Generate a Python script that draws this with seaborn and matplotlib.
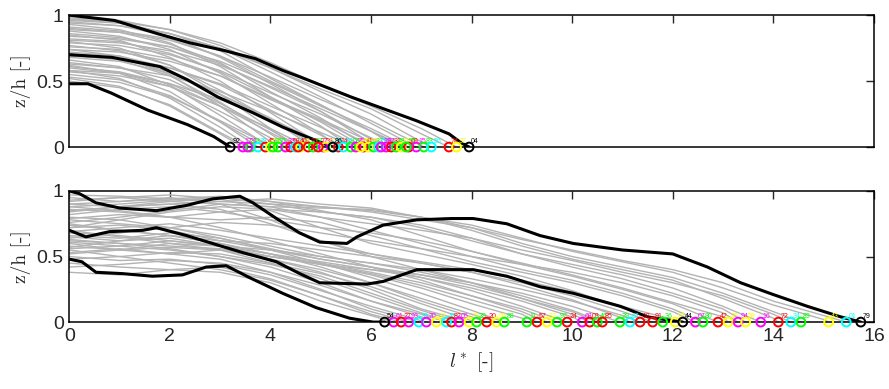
import matplotlib
matplotlib.use("Agg")
import matplotlib.pyplot as plt
import pandas as pd
import seaborn as sns

# ---- top panel: gray trajectories (z/h sampled at l* = 0, 1, 2, ... then end point) ----
top_end = [3.45, 3.6, 3.75, 3.9, 4.0, 4.15, 4.3, 4.4, 4.5, 4.6,
           4.75, 4.85, 5.05, 5.1, 5.35, 5.45, 5.6, 5.7, 5.85, 5.95,
           6.05, 6.15, 6.3, 6.4, 6.5, 6.6, 6.75, 6.9, 7.05, 7.2,
           7.55, 7.7, 3.55, 4.05, 4.55, 5.25, 5.8, 6.2, 6.7, 4.95]
top_z = [
    [0.52, 0.46, 0.31, 0.10],
    [0.58, 0.52, 0.37, 0.15],
    [0.62, 0.56, 0.42, 0.19],
    [0.55, 0.51, 0.39, 0.19],
    [0.66, 0.61, 0.47, 0.24],
    [0.74, 0.69, 0.55, 0.31, 0.04],
    [0.60, 0.56, 0.46, 0.27, 0.07],
    [0.70, 0.66, 0.54, 0.34, 0.10],
    [0.80, 0.75, 0.62, 0.40, 0.14],
    [0.64, 0.60, 0.51, 0.33, 0.13],
    [0.57, 0.54, 0.46, 0.31, 0.14],
    [0.77, 0.73, 0.62, 0.43, 0.21],
    [0.85, 0.81, 0.68, 0.50, 0.26, 0.02],
    [0.68, 0.65, 0.56, 0.40, 0.22, 0.02],
    [0.88, 0.84, 0.74, 0.56, 0.33, 0.10],
    [0.72, 0.69, 0.60, 0.47, 0.28, 0.09],
    [0.93, 0.89, 0.79, 0.61, 0.38, 0.16],
    [0.63, 0.60, 0.54, 0.42, 0.27, 0.11],
    [0.82, 0.80, 0.71, 0.57, 0.38, 0.19],
    [0.90, 0.87, 0.78, 0.64, 0.42, 0.22],
    [0.76, 0.74, 0.67, 0.54, 0.36, 0.20, 0.01],
    [0.95, 0.92, 0.84, 0.68, 0.48, 0.27, 0.03],
    [0.86, 0.83, 0.76, 0.63, 0.45, 0.27, 0.06],
    [0.79, 0.77, 0.70, 0.58, 0.41, 0.25, 0.07],
    [0.97, 0.94, 0.86, 0.73, 0.52, 0.32, 0.12],
    [0.91, 0.88, 0.82, 0.69, 0.50, 0.32, 0.12],
    [0.84, 0.82, 0.76, 0.65, 0.49, 0.31, 0.14],
    [0.96, 0.94, 0.86, 0.75, 0.57, 0.38, 0.18],
    [0.89, 0.87, 0.81, 0.69, 0.53, 0.36, 0.20, 0.01],
    [0.98, 0.96, 0.89, 0.77, 0.60, 0.42, 0.25, 0.04],
    [0.94, 0.92, 0.86, 0.75, 0.60, 0.44, 0.29, 0.10],
    [0.97, 0.95, 0.89, 0.79, 0.64, 0.47, 0.31, 0.14],
    [0.50, 0.45, 0.32, 0.11],
    [0.53, 0.49, 0.38, 0.20, 0.01],
    [0.61, 0.57, 0.48, 0.31, 0.11],
    [0.58, 0.56, 0.48, 0.36, 0.21, 0.04],
    [0.69, 0.67, 0.60, 0.48, 0.31, 0.15],
    [0.74, 0.72, 0.65, 0.54, 0.37, 0.21, 0.04],
    [0.81, 0.79, 0.73, 0.62, 0.46, 0.29, 0.12],
    [0.71, 0.67, 0.57, 0.40, 0.21],
]
top_ids = ["17", "63", "28", "45", "09", "71", "33", "58", "12", "90",
           "26", "67", "38", "81", "14", "52", "06", "75", "41", "99",
           "23", "60", "87", "31", "48", "02", "69", "15", "83", "56",
           "74", "37", "21", "95", "40", "08", "65", "19", "50", "77"]
top_colors = ["m", "g", "c", "r", "y", "g", "m", "r", "c", "y",
              "r", "g", "m", "y", "r", "c", "g", "m", "r", "y",
              "g", "c", "m", "r", "g", "y", "r", "m", "g", "c",
              "r", "y", "m", "g", "r", "c", "y", "m", "g", "r"]

# ---- top panel: black reference trajectories ----
top_black_l = [
    [0, 0.9, 1.75, 2.4, 3.1, 3.7, 4.25, 4.6, 5.6, 6.9, 7.55, 7.8, 7.95],
    [0, 0.85, 1.8, 2.35, 2.95, 3.65, 4.25, 4.9, 5.24],
    [0, 0.37, 0.83, 1.56, 2.35, 2.87, 3.2],
]
top_black_z = [
    [1.0, 0.96, 0.86, 0.79, 0.73, 0.67, 0.58, 0.53, 0.38, 0.20, 0.10, 0.03, 0],
    [0.70, 0.68, 0.61, 0.51, 0.38, 0.26, 0.15, 0.05, 0],
    [0.48, 0.48, 0.41, 0.28, 0.17, 0.08, 0],
]
top_black_ids = ["04", "86", "92"]

# ---- bottom panel: gray trajectories ----
bot_end = [6.45, 6.6, 6.75, 6.95, 7.1, 7.3, 7.5, 7.6, 7.75, 7.95,
           8.1, 8.3, 8.5, 8.65, 9.1, 9.3, 9.5, 9.7, 9.9, 10.2,
           10.35, 10.5, 10.6, 10.95, 11.15, 11.35, 11.6, 11.8, 12.05, 12.45,
           12.6, 12.9, 13.1, 13.3, 13.45, 13.75, 14.1, 14.35, 14.55, 15.1, 15.45]
bot_z = [
    [0.45, 0.42, 0.40, 0.38, 0.30, 0.16, 0.05],
    [0.38, 0.36, 0.40, 0.42, 0.33, 0.20, 0.06],
    [0.55, 0.50, 0.45, 0.40, 0.32, 0.20, 0.08],
    [0.60, 0.55, 0.52, 0.48, 0.38, 0.25, 0.10],
    [0.50, 0.47, 0.48, 0.44, 0.36, 0.24, 0.12, 0.01],
    [0.62, 0.60, 0.56, 0.50, 0.42, 0.30, 0.16, 0.04],
    [0.42, 0.44, 0.47, 0.45, 0.38, 0.28, 0.16, 0.06],
    [0.70, 0.65, 0.60, 0.55, 0.45, 0.33, 0.20, 0.07],
    [0.56, 0.58, 0.55, 0.50, 0.44, 0.35, 0.22, 0.09],
    [0.65, 0.62, 0.64, 0.58, 0.48, 0.38, 0.25, 0.10],
    [0.48, 0.50, 0.53, 0.52, 0.45, 0.37, 0.27, 0.14, 0.01],
    [0.75, 0.70, 0.66, 0.60, 0.52, 0.42, 0.30, 0.16, 0.04],
    [0.58, 0.55, 0.57, 0.55, 0.48, 0.40, 0.30, 0.18, 0.06],
    [0.80, 0.78, 0.72, 0.64, 0.55, 0.45, 0.34, 0.22, 0.09],
    [0.52, 0.55, 0.60, 0.58, 0.50, 0.44, 0.36, 0.26, 0.14, 0.03],
    [0.68, 0.66, 0.62, 0.58, 0.52, 0.44, 0.37, 0.28, 0.17, 0.06],
    [0.88, 0.85, 0.80, 0.72, 0.62, 0.52, 0.42, 0.32, 0.20, 0.08],
    [0.63, 0.60, 0.58, 0.56, 0.50, 0.45, 0.38, 0.30, 0.20, 0.10],
    [0.72, 0.74, 0.70, 0.62, 0.55, 0.48, 0.42, 0.34, 0.24, 0.12],
    [0.57, 0.62, 0.66, 0.60, 0.52, 0.46, 0.40, 0.34, 0.26, 0.16, 0.04],
    [0.90, 0.92, 0.95, 0.90, 0.78, 0.62, 0.50, 0.40, 0.30, 0.18, 0.06],
    [0.66, 0.64, 0.68, 0.64, 0.56, 0.48, 0.42, 0.36, 0.28, 0.18, 0.08],
    [0.78, 0.75, 0.72, 0.66, 0.58, 0.50, 0.45, 0.38, 0.30, 0.20, 0.09],
    [0.53, 0.56, 0.52, 0.55, 0.50, 0.44, 0.40, 0.36, 0.30, 0.22, 0.12],
    [0.84, 0.88, 0.90, 0.86, 0.75, 0.62, 0.52, 0.45, 0.38, 0.28, 0.17, 0.03],
    [0.61, 0.58, 0.62, 0.58, 0.55, 0.50, 0.45, 0.40, 0.33, 0.25, 0.16, 0.05],
    [0.74, 0.70, 0.66, 0.62, 0.60, 0.55, 0.50, 0.45, 0.38, 0.30, 0.20, 0.08],
    [0.92, 0.95, 0.97, 0.94, 0.85, 0.72, 0.60, 0.52, 0.44, 0.35, 0.24, 0.11],
    [0.69, 0.72, 0.75, 0.70, 0.64, 0.58, 0.52, 0.46, 0.40, 0.32, 0.23, 0.12, 0.02],
    [0.86, 0.84, 0.80, 0.78, 0.80, 0.76, 0.66, 0.56, 0.46, 0.38, 0.30, 0.20, 0.08],
    [0.76, 0.80, 0.85, 0.90, 0.88, 0.80, 0.70, 0.60, 0.50, 0.40, 0.32, 0.22, 0.10],
    [0.95, 0.92, 0.94, 0.96, 0.92, 0.85, 0.78, 0.66, 0.54, 0.44, 0.35, 0.25, 0.14],
    [0.82, 0.86, 0.88, 0.84, 0.78, 0.72, 0.68, 0.62, 0.54, 0.45, 0.36, 0.26, 0.15, 0.04],
    [0.64, 0.68, 0.72, 0.76, 0.74, 0.68, 0.62, 0.56, 0.50, 0.44, 0.38, 0.30, 0.20, 0.07],
    [0.88, 0.90, 0.93, 0.95, 0.90, 0.84, 0.80, 0.74, 0.64, 0.52, 0.42, 0.33, 0.22, 0.10],
    [0.79, 0.82, 0.80, 0.84, 0.86, 0.84, 0.80, 0.72, 0.62, 0.52, 0.44, 0.36, 0.26, 0.12],
    [0.93, 0.95, 0.92, 0.90, 0.88, 0.87, 0.86, 0.80, 0.70, 0.58, 0.48, 0.40, 0.32, 0.18, 0.03],
    [0.72, 0.78, 0.84, 0.88, 0.86, 0.80, 0.75, 0.70, 0.64, 0.55, 0.47, 0.38, 0.30, 0.20, 0.06],
    [0.90, 0.88, 0.90, 0.92, 0.94, 0.90, 0.87, 0.80, 0.72, 0.60, 0.50, 0.42, 0.34, 0.22, 0.08],
    [0.97, 0.96, 0.94, 0.92, 0.90, 0.88, 0.85, 0.80, 0.74, 0.64, 0.54, 0.46, 0.38, 0.26, 0.13, 0.02],
    [0.85, 0.88, 0.92, 0.95, 0.92, 0.88, 0.84, 0.78, 0.72, 0.63, 0.55, 0.47, 0.40, 0.30, 0.16, 0.05],
]
bot_ids = ["61", "27", "93", "35", "70", "13", "49", "82", "05", "73",
           "39", "20", "66", "88", "11", "57", "32", "97", "24", "68",
           "03", "46", "85", "29", "62", "18", "91", "36", "53", "07",
           "80", "42", "25", "94", "59", "16", "72", "34", "89", "43", "01"]
bot_colors = ["m", "r", "m", "c", "m", "y", "c", "r", "m", "y",
              "g", "r", "y", "g", "g", "r", "y", "g", "r", "m",
              "r", "g", "r", "g", "c", "r", "r", "g", "y", "m",
              "g", "r", "y", "m", "y", "m", "r", "c", "g", "y", "c"]

# ---- bottom panel: black reference trajectories ----
bot_black_l = [
    [0, 0.2, 0.53, 1.0, 1.73, 2.33, 2.85, 3.39, 3.65, 4.12, 4.58, 4.98, 5.52, 5.72,
     6.24, 6.91, 7.6, 8.03, 8.7, 9.36, 10.02, 11.0, 12.0, 12.69, 13.35, 14.0, 14.68, 15.34, 15.74],
    [0, 0.33, 0.8, 1.46, 1.73, 2.33, 2.93, 3.45, 4.12, 4.58, 4.98, 5.92, 6.24, 6.91,
     7.6, 8.03, 8.7, 9.36, 10.02, 10.96, 11.5, 12.0, 12.2],
    [0, 0.25, 0.53, 1.05, 1.65, 2.25, 2.72, 3.12, 3.58, 4.24, 4.91, 5.57, 6.04, 6.27],
]
bot_black_z = [
    [1.0, 0.98, 0.91, 0.87, 0.85, 0.89, 0.94, 0.96, 0.91, 0.79, 0.68, 0.61, 0.60, 0.65,
     0.74, 0.78, 0.79, 0.79, 0.75, 0.66, 0.60, 0.55, 0.52, 0.42, 0.30, 0.21, 0.12, 0.04, 0],
    [0.70, 0.65, 0.69, 0.70, 0.72, 0.66, 0.59, 0.53, 0.46, 0.37, 0.30, 0.29, 0.31, 0.40,
     0.40, 0.40, 0.35, 0.27, 0.22, 0.12, 0.04, 0.01, 0],
    [0.48, 0.46, 0.38, 0.37, 0.35, 0.36, 0.42, 0.43, 0.34, 0.22, 0.11, 0.03, 0.0, 0.0],
]
bot_black_ids = ["79", "44", "54"]

x_ticks = [0, 2, 4, 6, 8, 10, 12, 14, 16]
y_ticks = [0, 0.5, 1]
y_ticklabels = ["0", "0.5", "1"]

# MATLAB-style short colour codes
matlab_rgb = {"r": "#ff0000", "g": "#00ff00", "m": "#ff00ff",
              "y": "#ffff00", "c": "#00ffff", "k": "#000000"}


def gray_frame(ends, zs):
    rows = []
    for i, (end, z) in enumerate(zip(ends, zs)):
        for k, val in enumerate(z):
            rows.append((i, float(k), val))
        rows.append((i, end, 0.0))
    return pd.DataFrame(rows, columns=["curve", "l", "z"])


def black_frame(ls, zs):
    rows = []
    for i, (l, z) in enumerate(zip(ls, zs)):
        for a, b in zip(l, z):
            rows.append((i, a, b))
    return pd.DataFrame(rows, columns=["curve", "l", "z"])


sns.set_style("white")
plt.rcParams["font.family"] = ["Liberation Sans", "DejaVu Sans"]
plt.rcParams["mathtext.fontset"] = "cm"

fig = plt.figure(figsize=(8.89, 3.89), dpi=100)
ax_top = fig.add_axes([0.078, 0.622, 0.905, 0.339])
ax_bot = fig.add_axes([0.078, 0.172, 0.905, 0.337])

panels = [
    (ax_top, top_end, top_z, top_ids, top_colors, top_black_l, top_black_z, top_black_ids),
    (ax_bot, bot_end, bot_z, bot_ids, bot_colors, bot_black_l, bot_black_z, bot_black_ids),
]

for ax, ends, zs, ids, cols, bl, bz, bids in panels:
    sns.lineplot(data=gray_frame(ends, zs), x="l", y="z", units="curve",
                 estimator=None, sort=False, color="#b3b3b3", linewidth=1.0,
                 legend=False, ax=ax)
    sns.lineplot(data=black_frame(bl, bz), x="l", y="z", units="curve",
                 estimator=None, sort=False, color="black", linewidth=2.2,
                 legend=False, ax=ax)

    rgb = [matlab_rgb[c] for c in cols]
    ax.scatter(ends, [0] * len(ends), s=40, facecolors="none",
               edgecolors=rgb, linewidths=1.4, zorder=4, clip_on=False)
    for e, lab, c in zip(ends, ids, rgb):
        ax.annotate(lab, (e, 0), xytext=(1.5, 1.5), textcoords="offset points",
                    fontsize=5, color=c, ha="left", va="bottom")

    black_ends = [l[-1] for l in bl]
    ax.scatter(black_ends, [0] * len(black_ends), s=40, facecolors="none",
               edgecolors="black", linewidths=1.4, zorder=5, clip_on=False)
    for e, lab in zip(black_ends, bids):
        ax.annotate(lab, (e, 0), xytext=(1.5, 1.5), textcoords="offset points",
                    fontsize=5, color="black", ha="left", va="bottom")

    ax.set_xlim(0, 16)
    ax.set_ylim(0, 1)
    ax.set_xticks(x_ticks)
    ax.set_yticks(y_ticks)
    ax.set_yticklabels(y_ticklabels)
    ax.tick_params(direction="in", top=True, right=True, length=5.5, width=1.0,
                   labelsize=14, pad=4)
    for sp in ax.spines.values():
        sp.set_linewidth(1.1)
        sp.set_color("black")
    ax.set_xlabel("")
    ax.set_ylabel("z/h [-]", family="cmr10", fontsize=14, labelpad=4)

ax_top.set_xticklabels([])
ax_bot.set_xlabel(r"$l^*$ [-]", family="cmr10", fontsize=14, labelpad=4)

fig.savefig("out.png", dpi=100)
